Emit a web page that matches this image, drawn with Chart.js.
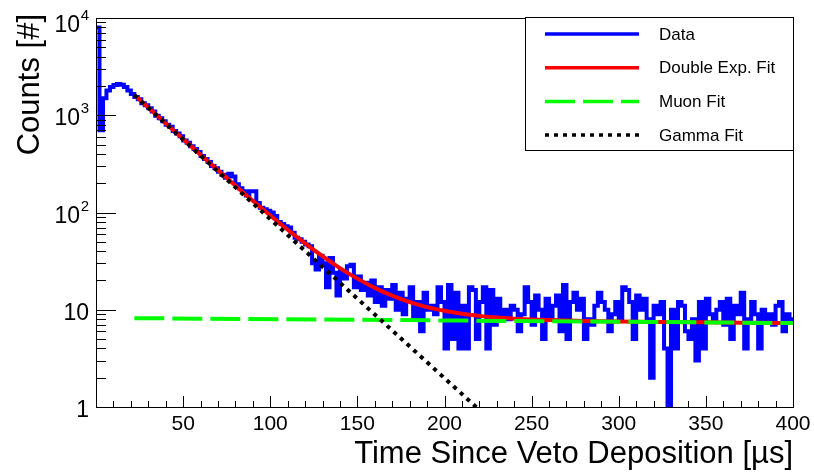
<!DOCTYPE html>
<html>
<head>
<meta charset="utf-8">
<script src="https://cdn.jsdelivr.net/npm/chart.js@4.4.1/dist/chart.umd.min.js"></script>
<style>
  html, body { margin: 0; padding: 0; background: #fff; }
  #wrap { width: 814px; height: 473px; }
</style>
</head>
<body>
<div id="wrap"><canvas id="veto" width="814" height="473"></canvas></div>
<script>
// ==================== DADOS ====================
const binWidth = 2; // us
const binCounts = [
  8000, 700, 1500, 1800, 1950, 2050, 2100, 2060, 1950, 1800,
  1650, 1540, 1460, 1330, 1270, 1180, 1090, 990, 930, 870,
  800, 760, 690, 650, 610, 550, 520, 480, 450, 420,
  380, 355, 330, 300, 285, 262, 245, 228, 250, 235,
  195, 178, 165, 150, 165, 165, 125, 112, 108, 104,
  100, 92, 80, 76, 72, 70, 62, 55, 53, 50,
  47, 45, 30, 26, 36, 30, 17, 34, 24, 14,
  25, 21, 28, 29, 17, 22, 16, 19, 14, 20,
  12, 17, 11, 16, 13, 18, 10, 15, 9, 13,
  17, 8, 12, 6, 15, 10, 11, 9, 17, 12,
  4, 18, 5, 15, 4, 11, 4, 17, 16, 5,
  12, 17, 4, 16, 7, 13, 9, 10, 8, 11,
  10, 6, 9, 17, 12, 7, 14, 10, 5, 13,
  8, 11, 14, 6, 18, 5, 12, 15, 10, 13,
  5, 8, 7, 11, 15, 12, 10, 6, 9, 12,
  8, 17, 16, 12, 5, 14, 10, 13, 8, 2,
  11, 9, 12, 4, 1, 10, 4, 12, 11, 6,
  5, 8, 3, 12, 4, 13, 9, 8, 10, 12,
  7, 13, 5, 11, 9, 15, 4, 8, 12, 9,
  4, 10, 8, 9, 7, 11, 12, 6, 9, 8
];

const fitTimes = [22, 30, 40, 50, 60, 70, 80, 90, 100, 110, 120, 130, 140, 150, 160, 170, 180, 190, 200,
  210, 220, 230, 240, 250, 260, 270, 280, 290, 300, 320, 340, 360, 380, 400];
const doubleExpFit = [1619, 1199, 825, 569, 393, 272, 189, 132, 93.3, 66.5, 48.2, 35.6, 26.8, 20.9, 16.8, 13.95, 11.98, 10.65, 9.75,
  9.1, 8.65, 8.32, 8.1, 7.94, 7.83, 7.74, 7.66, 7.6, 7.56, 7.5, 7.45, 7.39, 7.35, 7.3];

const muonTimes = [22, 400];
const muonFit = [8.2, 7.3];

const gammaTimes = [22, 230];
const gammaFit = [1611, 0.64];

const xTickValues = [50, 100, 150, 200, 250, 300, 350, 400];
const yTickValues = [1, 10, 100, 1000, 10000];
const yTickExponents = ['', '', '2', '3', '4'];

// ==================== MONTAGEM ====================
const histPoints = binCounts.map((v, i) => ({ x: i * binWidth, y: v }));
histPoints.push({ x: binCounts.length * binWidth, y: binCounts[binCounts.length - 1] });
const toPoints = (xs, ys) => xs.map((x, i) => ({ x, y: ys[i] }));

const FONT = "'Liberation Sans', Arial, Helvetica, sans-serif";

const rootFrame = {
  id: 'rootFrame',
  afterDraw(chart) {
    const { ctx, chartArea: a, scales: { x, y } } = chart;
    ctx.save();
    ctx.strokeStyle = '#000';
    ctx.fillStyle = '#000';
    ctx.lineWidth = 1;
    ctx.strokeRect(a.left + 0.5, a.top + 0.5, a.right - a.left, a.bottom - a.top);

    // ticks eixo x (para dentro)
    ctx.beginPath();
    for (let v = 0; v <= 400; v += 10) {
      const px = Math.round(x.getPixelForValue(v)) + 0.5;
      const len = v % 50 === 0 ? 11 : 6;
      ctx.moveTo(px, a.bottom);
      ctx.lineTo(px, a.bottom - len);
    }
    // ticks eixo y log
    for (let d = 0; d < 4; d++) {
      for (let m = 1; m <= 9; m++) {
        const py = Math.round(y.getPixelForValue(m * Math.pow(10, d))) + 0.5;
        const len = m === 1 ? 20 : 10;
        ctx.moveTo(a.left, py);
        ctx.lineTo(a.left + len, py);
      }
    }
    ctx.stroke();

    // rótulos x
    ctx.font = '21px ' + FONT;
    ctx.textAlign = 'center';
    ctx.textBaseline = 'alphabetic';
    xTickValues.forEach(v => ctx.fillText(String(v), x.getPixelForValue(v), 430));

    // rótulos y com expoente
    yTickValues.forEach((v, i) => {
      let py = y.getPixelForValue(v) + 10;
      if (i === yTickValues.length - 1) py += 4;
      const exp = yTickExponents[i];
      ctx.textAlign = 'right';
      if (exp) {
        ctx.font = '15px ' + FONT;
        ctx.fillText(exp, 89, py - 12);
        ctx.font = '23px ' + FONT;
        ctx.fillText(i === 0 ? '1' : '10', 89 - ctx.measureText(exp).width * 0.7, py);
      } else {
        ctx.font = '23px ' + FONT;
        ctx.fillText(v === 1 ? '1' : '10', 89, py);
      }
    });

    // títulos
    ctx.font = '31px ' + FONT;
    ctx.textAlign = 'right';
    ctx.fillText('Time Since Veto Deposition [\u00b5s]', a.right, 463);
    ctx.save();
    ctx.translate(39, 14);
    ctx.rotate(-Math.PI / 2);
    ctx.textAlign = 'right';
    ctx.fillText('Counts [#]', 0, 0);
    ctx.restore();

    // legenda estilo ROOT
    const box = { l: 525, t: 17, r: a.right, b: 150 };
    ctx.fillStyle = '#fff';
    ctx.fillRect(box.l, box.t, box.r - box.l, box.b - box.t);
    ctx.strokeStyle = '#000';
    ctx.lineWidth = 1;
    ctx.strokeRect(box.l + 0.5, box.t + 0.5, box.r - box.l, box.b - box.t);
    ctx.font = '17px ' + FONT;
    ctx.textAlign = 'left';
    ctx.textBaseline = 'middle';
    chart.data.datasets.forEach((ds, i) => {
      const ly = box.t + 17 + i * 33.7;
      ctx.beginPath();
      ctx.strokeStyle = ds.borderColor;
      ctx.lineWidth = Math.min(ds.borderWidth, 3.5);
      ctx.setLineDash(ds.borderDash || []);
      ctx.moveTo(545, ly);
      ctx.lineTo(639, ly);
      ctx.stroke();
      ctx.setLineDash([]);
      ctx.fillStyle = '#000';
      ctx.fillText(ds.label, 659, ly + 1);
    });
    ctx.restore();
  }
};

new Chart(document.getElementById('veto'), {
  type: 'line',
  data: {
    datasets: [
      { label: 'Data', data: histPoints, borderColor: '#0000ff', borderWidth: 4, stepped: 'before', pointRadius: 0, order: 4, borderJoinStyle: 'miter' },
      { label: 'Double Exp. Fit', data: toPoints(fitTimes, doubleExpFit), borderColor: '#ff0000', borderWidth: 4, pointRadius: 0, cubicInterpolationMode: 'monotone', order: 3 },
      { label: 'Muon Fit', data: toPoints(muonTimes, muonFit), borderColor: '#00ff00', borderWidth: 4, borderDash: [30, 8], pointRadius: 0, order: 2 },
      { label: 'Gamma Fit', data: toPoints(gammaTimes, gammaFit), borderColor: '#000000', borderWidth: 4, borderDash: [4, 5], pointRadius: 0, order: 1 }
    ]
  },
  options: {
    responsive: false,
    animation: false,
    layout: { padding: { left: 96, top: 18, right: 21, bottom: 66 } },
    plugins: { legend: { display: false }, tooltip: { enabled: false } },
    scales: {
      x: { type: 'linear', min: 0, max: 400, display: false },
      y: { type: 'logarithmic', min: 1, max: 10000, display: false }
    }
  },
  plugins: [rootFrame]
});
</script>
</body>
</html>
